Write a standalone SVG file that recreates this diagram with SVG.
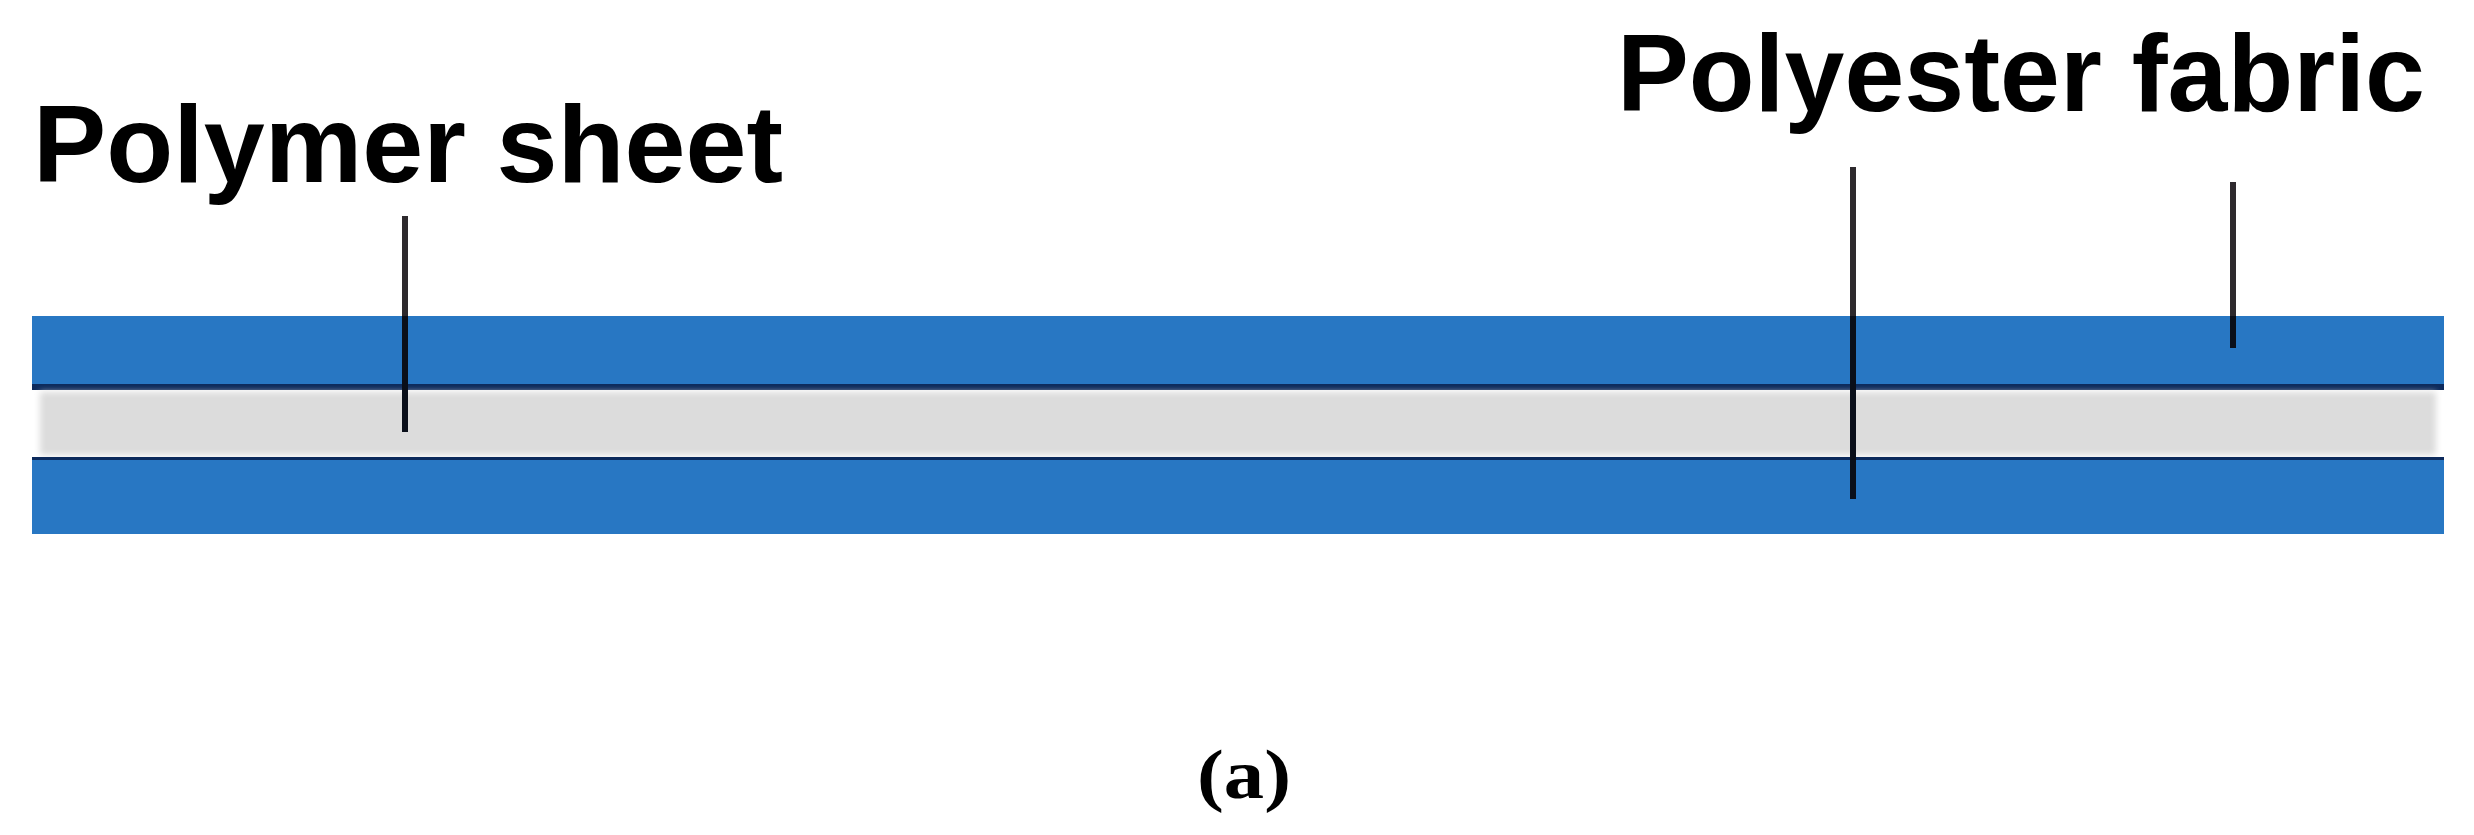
<svg xmlns="http://www.w3.org/2000/svg" width="2474" height="835" viewBox="0 0 2474 835">
<defs>
<style>
.lbl{font-family:"Liberation Sans",Arial,sans-serif;font-weight:bold;fill:#000;}
.cap{font-family:"Liberation Serif","Times New Roman",serif;font-weight:bold;fill:#000;}
.blue{fill:#2877c3;}
.lead{stroke:#2e2a2e;stroke-width:6;fill:none;}
.lead-in{stroke:#0a0f1a;stroke-width:6;fill:none;}
</style>
<filter id="soft" x="-2%" y="-20%" width="104%" height="140%"><feGaussianBlur stdDeviation="3"/></filter>
</defs>
<rect width="2474" height="835" fill="#fff"/>
<g id="layers">
<g id="top-fabric">
<rect class="blue" x="32" y="316" width="2412" height="72"/>
<rect x="32" y="384" width="2412" height="6" fill="#0c2a5c"/>
</g>
<g id="polymer-sheet">
<rect x="40" y="392" width="2396" height="63" fill="#dcdcdc" filter="url(#soft)"/>
<rect x="32" y="457" width="2412" height="3" fill="#0c2a5c"/>
</g>
<g id="bottom-fabric">
<rect class="blue" x="32" y="460" width="2412" height="74"/>
</g>
</g>
<g id="connectors">
<line class="lead" x1="405" y1="216" x2="405" y2="316"/>
<line class="lead-in" x1="405" y1="316" x2="405" y2="432"/>
<line class="lead" x1="1853" y1="167" x2="1853" y2="316"/>
<line class="lead-in" x1="1853" y1="316" x2="1853" y2="499"/>
<line class="lead" x1="2233" y1="182" x2="2233" y2="316"/>
<line class="lead-in" x1="2233" y1="316" x2="2233" y2="348"/>
</g>
<g id="label-polymer"><text class="lbl" x="33" y="182" font-size="110" textLength="750" lengthAdjust="spacingAndGlyphs">Polymer sheet</text></g>
<g id="label-polyester"><text class="lbl" x="1617" y="111" font-size="110" textLength="808" lengthAdjust="spacingAndGlyphs">Polyester fabric</text></g>
<g id="caption"><text class="cap" x="1197" y="798" font-size="70" textLength="94" lengthAdjust="spacingAndGlyphs">(a)</text></g>
</svg>
